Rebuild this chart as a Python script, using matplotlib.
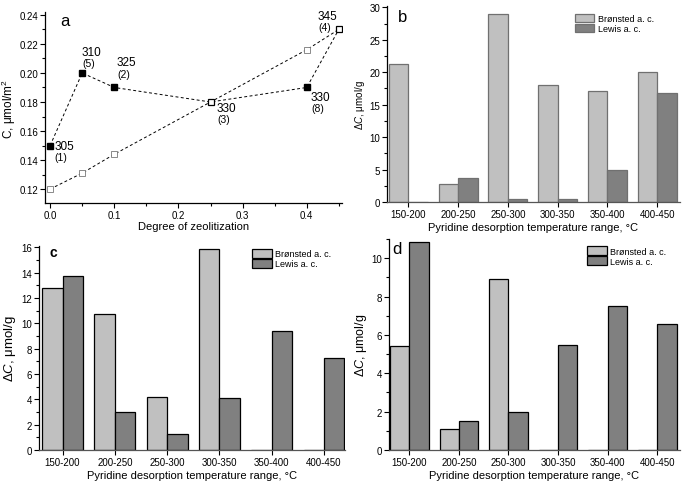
import matplotlib
matplotlib.use("Agg")
import matplotlib.pyplot as plt
from matplotlib.patches import Patch
from matplotlib.ticker import MultipleLocator

plt.rcParams['font.family'] = ['Liberation Sans', 'DejaVu Sans']
plt.rcParams['mathtext.fontset'] = 'custom'
plt.rcParams['mathtext.rm'] = 'Liberation Sans'
plt.rcParams['mathtext.it'] = 'Liberation Sans:italic'

# panel a data
zeolitization = [0.0, 0.05, 0.1, 0.25, 0.4, 0.45]
c_filled = [0.150, 0.200, 0.190, 0.180, 0.190, 0.230]
c_open = [0.120, 0.131, 0.144, 0.180, 0.216, 0.230]
filled_is_open = [False, False, False, True, False, True]
point_numbers = ["305", "310", "325", "330", "330", "345"]
point_ids = ["(1)", "(5)", "(2)", "(3)", "(8)", "(4)"]
label_offsets = [(10, 0), (6.5, 15), (9, 18), (11.5, -4), (10, -6.5), (-8, 10)]

# bar panels
ranges = ["150-200", "200-250", "250-300", "300-350", "350-400", "400-450"]
bronsted_b = [21.3, 2.8, 28.9, 18.1, 17.1, 20.1]
lewis_b = [0.0, 3.7, 0.5, 0.4, 5.0, 16.8]
bronsted_c = [12.8, 10.7, 4.2, 15.9, 0.0, 0.0]
lewis_c = [13.75, 3.0, 1.3, 4.1, 9.4, 7.25]
bronsted_d = [5.4, 1.1, 8.9, 0.0, 0.0, 0.0]
lewis_d = [10.85, 1.5, 2.0, 5.5, 7.5, 6.55]

LIGHT = '#c0c0c0'
DARK = '#808080'

fig = plt.figure(figsize=(6.85, 4.89), dpi=100)
ax_a = fig.add_axes([0.0657, 0.5828, 0.4336, 0.3906])
ax_b = fig.add_axes([0.565, 0.5849, 0.4277, 0.4008])
ax_c = fig.add_axes([0.0569, 0.0777, 0.4467, 0.4172])
ax_d = fig.add_axes([0.5679, 0.0777, 0.4248, 0.4315])


def style_axes(ax):
    for s in ['top', 'right']:
        ax.spines[s].set_visible(False)
    for s in ['left', 'bottom']:
        ax.spines[s].set_linewidth(0.9)
    ax.tick_params(which='both', direction='out', labelsize=7, width=0.8)
    ax.tick_params(which='major', length=3.5, pad=1.5)
    ax.tick_params(which='minor', length=2)


# ---- panel a ----
ax_a.plot(zeolitization, c_open, ls=(0, (3, 2.5)), color='black', lw=0.7)
ax_a.plot(zeolitization, c_filled, ls=(0, (3, 2.5)), color='black', lw=0.7)
for x, yo, yf, op in zip(zeolitization, c_open, c_filled, filled_is_open):
    if op:
        ax_a.plot(x, yf, 's', ms=5, mfc='white', mec='black', mew=0.9, zorder=3)
    else:
        ax_a.plot(x, yo, 's', ms=3.8, mfc='white', mec='#777777', mew=0.6, zorder=3)
        ax_a.plot(x, yf, 's', ms=5, mfc='black', mec='black', zorder=3)
for x, y, num, pid, (dx, dy) in zip(zeolitization, c_filled, point_numbers, point_ids, label_offsets):
    ax_a.annotate(num, (x, y), xytext=(dx, dy), textcoords='offset points',
                  ha='center', va='center', fontsize=8.5)
    ax_a.annotate(pid, (x, y), xytext=(dx - 2, dy - 8), textcoords='offset points',
                  ha='center', va='center', fontsize=7.5)
ax_a.set_xlim(-0.008, 0.455)
ax_a.set_ylim(0.1104, 0.242)
ax_a.xaxis.set_major_locator(MultipleLocator(0.1))
ax_a.xaxis.set_minor_locator(MultipleLocator(0.05))
ax_a.yaxis.set_major_locator(MultipleLocator(0.02))
ax_a.yaxis.set_minor_locator(MultipleLocator(0.01))
ax_a.xaxis.set_major_formatter(matplotlib.ticker.FormatStrFormatter('%.1f'))
ax_a.yaxis.set_major_formatter(matplotlib.ticker.FormatStrFormatter('%.2f'))
ax_a.set_xlabel('Degree of zeolitization', fontsize=8, labelpad=1)
ax_a.set_ylabel('C, μmol/m$^2$', fontsize=8.5, labelpad=1)
style_axes(ax_a)
ax_a.text(0.05, 0.953, 'a', transform=ax_a.transAxes, fontsize=12, va='center')


# ---- bar panels ----
def bar_panel(ax, br, lw_vals, edge, ylim, major, minor, letter, lpos, legpos,
              ylab_size=7, bold=False):
    xs = range(len(ranges))
    w = 0.39
    ax.bar([x - w / 2 for x in xs], br, width=w, color=LIGHT, edgecolor=edge, linewidth=0.9)
    ax.bar([x + w / 2 for x in xs], lw_vals, width=w, color=DARK, edgecolor=edge, linewidth=0.9)
    ax.set_xticks(list(xs))
    ax.set_xticklabels(ranges)
    ax.set_ylim(*ylim)
    ax.yaxis.set_major_locator(MultipleLocator(major))
    ax.yaxis.set_minor_locator(MultipleLocator(minor))
    ax.set_xlabel('Pyridine desorption temperature range, °C', fontsize=8, labelpad=2)
    ax.set_ylabel(r'$\Delta C$, μmol/g', fontsize=ylab_size, labelpad=2)
    style_axes(ax)
    ax.spines['bottom'].set_color('#555555')
    handles = [Patch(facecolor=LIGHT, edgecolor=edge, linewidth=0.9, label='Brønsted a. c.'),
               Patch(facecolor=DARK, edgecolor=edge, linewidth=0.9, label='Lewis a. c.')]
    ax.legend(handles=handles, loc='upper left', bbox_to_anchor=legpos, frameon=False,
              fontsize=6.5, handlelength=2.2, handleheight=1.1, handletextpad=0.4,
              borderpad=0, borderaxespad=0, labelspacing=0.05)
    ax.text(lpos[0], lpos[1], letter, transform=ax.transAxes, fontsize=12 if not bold else 10,
            fontweight='bold' if bold else 'normal', va='center')


bar_panel(ax_b, bronsted_b, lewis_b, '#707070', (0, 30.2), 5, 2.5, 'b', (0.038, 0.946), (0.64, 0.96))
ax_b.set_xlim(-0.43, 5.46)
bar_panel(ax_c, bronsted_c, lewis_c, 'black', (0, 16.1), 2, 1, 'c', (0.033, 0.97), (0.696, 0.985),
          ylab_size=9.5, bold=True)
ax_c.set_xlim(-0.45, 5.4)
bar_panel(ax_d, bronsted_d, lewis_d, 'black', (0, 11.0), 2, 1, 'd', (0.01, 0.957), (0.68, 0.965),
          ylab_size=9)
ax_d.set_xlim(-0.41, 5.46)

fig.savefig('out.png', dpi=100)
